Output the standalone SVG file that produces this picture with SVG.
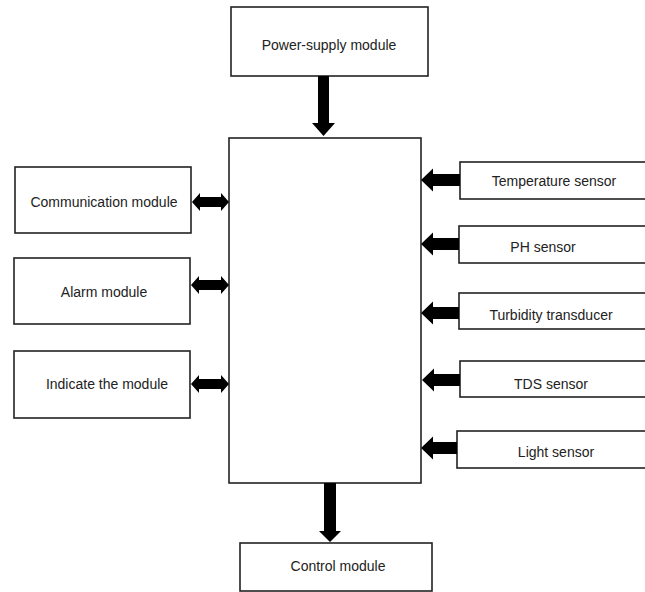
<svg xmlns="http://www.w3.org/2000/svg" width="645" height="592" viewBox="0 0 645 592">
<style>
.box{fill:#fff;stroke:#222;stroke-width:1.6}
.lbl{font-family:"Liberation Sans",Arial,sans-serif;font-size:14px;fill:#222;text-anchor:middle;dominant-baseline:central}
.arr{fill:#000;stroke:none}
</style>
<rect width="645" height="592" fill="#fff"/>
<g id="power"><rect class="box" x="231" y="7" width="197" height="69"/><text class="lbl" x="329" y="45">Power-supply module</text></g>
<g id="mcu"><rect class="box" x="229" y="138" width="192" height="345"/></g>
<g id="comm"><rect class="box" x="15" y="167" width="176" height="66"/><text class="lbl" x="104" y="202">Communication module</text></g>
<g id="alarm"><rect class="box" x="14" y="258" width="176" height="66"/><text class="lbl" x="104" y="292">Alarm module</text></g>
<g id="indicate"><rect class="box" x="14" y="351" width="176" height="67"/><text class="lbl" x="107" y="384">Indicate the module</text></g>
<g id="temp"><rect class="box" x="460" y="162" width="190" height="37"/><text class="lbl" x="554" y="181">Temperature sensor</text></g>
<g id="ph"><rect class="box" x="459" y="226" width="191" height="37"/><text class="lbl" x="543" y="247">PH sensor</text></g>
<g id="turb"><rect class="box" x="459" y="293" width="191" height="36"/><text class="lbl" x="551" y="315">Turbidity transducer</text></g>
<g id="tds"><rect class="box" x="460" y="361" width="190" height="36"/><text class="lbl" x="551" y="384">TDS sensor</text></g>
<g id="light"><rect class="box" x="457" y="431" width="193" height="37"/><text class="lbl" x="556" y="452">Light sensor</text></g>
<g id="control"><rect class="box" x="240" y="543" width="192" height="48"/><text class="lbl" x="338" y="566">Control module</text></g>
<g id="connectors">
<polygon class="arr" points="318,76 329,76 329,123 335,123 323.5,136 312,123 318,123"/>
<polygon class="arr" points="324,483 336,483 336,531 341,531 330,542 319,531 324,531"/>
<polygon class="arr" points="192,202 200,193 200,197 221,197 221,193 229,202 221,211 221,207 200,207 200,211" />
<polygon class="arr" points="191,285 199,276 199,280 221,280 221,276 229,285 221,294 221,290 199,290 199,294" />
<polygon class="arr" points="191,384 199,375 199,379 221,379 221,375 229,384 221,393 221,389 199,389 199,393" />
<polygon class="arr" points="421,180 433,168.5 433,174 460,174 460,186 433,186 433,191.5"/>
<polygon class="arr" points="421,244 433,232.5 433,238 459,238 459,250 433,250 433,255.5"/>
<polygon class="arr" points="421,313 433,301.5 433,307 459,307 459,319 433,319 433,324.5"/>
<polygon class="arr" points="422,380 434,368.5 434,374 460,374 460,386 434,386 434,391.5"/>
<polygon class="arr" points="421,448 433,436.5 433,442 457,442 457,454 433,454 433,459.5"/>
</g>
</svg>
